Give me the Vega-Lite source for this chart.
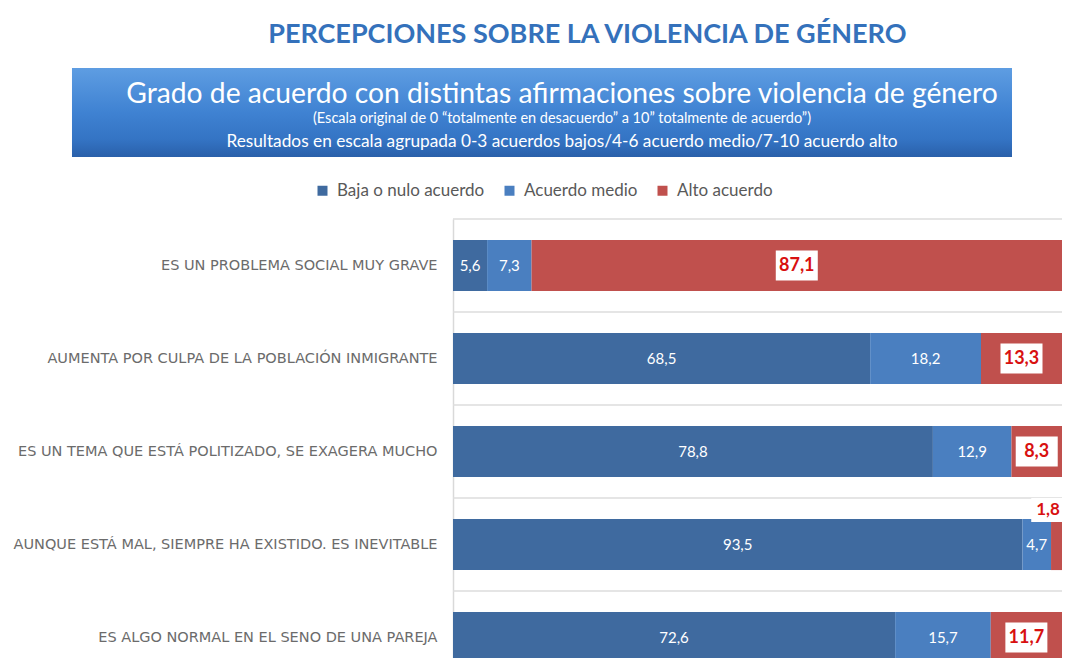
{
  "$schema": "https://vega.github.io/schema/vega-lite/v6.json",
  "background": "white",
  "padding": {"left": 13, "top": 21, "right": 0, "bottom": 0},
  "config": {
    "view": {"stroke": null},
    "font": "Lato",
    "axis": {"labelFont": "DejaVu Sans"},
    "locale": {"number": {"decimal": ",", "thousands": ".", "grouping": [3], "currency": ["", " €"]}}
  },
  "title": {
    "text": "PERCEPCIONES SOBRE LA VIOLENCIA DE GÉNERO",
    "font": "Lato",
    "fontSize": 27,
    "fontWeight": "bold",
    "color": "#3471bb",
    "anchor": "middle",
    "dx": 42,
    "offset": 19
  },
  "datasets": {
    "banner": [
      {"line": "a", "texto": "Grado de acuerdo con distintas afirmaciones sobre violencia de género"},
      {"line": "b", "texto": "(Escala original de 0 “totalmente en desacuerdo” a 10” totalmente de acuerdo”)"},
      {"line": "c", "texto": "Resultados en escala agrupada 0-3 acuerdos bajos/4-6 acuerdo medio/7-10 acuerdo alto"}
    ],
    "bars": [
      {"q": "ES UN PROBLEMA SOCIAL MUY GRAVE", "cat": "Baja o nulo acuerdo", "level": 1, "v": 5.6},
      {"q": "ES UN PROBLEMA SOCIAL MUY GRAVE", "cat": "Acuerdo medio", "level": 2, "v": 7.3},
      {"q": "ES UN PROBLEMA SOCIAL MUY GRAVE", "cat": "Alto acuerdo", "level": 3, "v": 87.1},
      {"q": "AUMENTA POR CULPA DE LA POBLACIÓN INMIGRANTE", "cat": "Baja o nulo acuerdo", "level": 1, "v": 68.5},
      {"q": "AUMENTA POR CULPA DE LA POBLACIÓN INMIGRANTE", "cat": "Acuerdo medio", "level": 2, "v": 18.2},
      {"q": "AUMENTA POR CULPA DE LA POBLACIÓN INMIGRANTE", "cat": "Alto acuerdo", "level": 3, "v": 13.3},
      {"q": "ES UN TEMA QUE ESTÁ POLITIZADO, SE EXAGERA MUCHO", "cat": "Baja o nulo acuerdo", "level": 1, "v": 78.8},
      {"q": "ES UN TEMA QUE ESTÁ POLITIZADO, SE EXAGERA MUCHO", "cat": "Acuerdo medio", "level": 2, "v": 12.9},
      {"q": "ES UN TEMA QUE ESTÁ POLITIZADO, SE EXAGERA MUCHO", "cat": "Alto acuerdo", "level": 3, "v": 8.3},
      {"q": "AUNQUE ESTÁ MAL, SIEMPRE HA EXISTIDO. ES INEVITABLE", "cat": "Baja o nulo acuerdo", "level": 1, "v": 93.5},
      {"q": "AUNQUE ESTÁ MAL, SIEMPRE HA EXISTIDO. ES INEVITABLE", "cat": "Acuerdo medio", "level": 2, "v": 4.7},
      {"q": "AUNQUE ESTÁ MAL, SIEMPRE HA EXISTIDO. ES INEVITABLE", "cat": "Alto acuerdo", "level": 3, "v": 1.8},
      {"q": "ES ALGO NORMAL EN EL SENO DE UNA PAREJA", "cat": "Baja o nulo acuerdo", "level": 1, "v": 72.6},
      {"q": "ES ALGO NORMAL EN EL SENO DE UNA PAREJA", "cat": "Acuerdo medio", "level": 2, "v": 15.7},
      {"q": "ES ALGO NORMAL EN EL SENO DE UNA PAREJA", "cat": "Alto acuerdo", "level": 3, "v": 11.7}
    ]
  },
  "spacing": 61,
  "vconcat": [
    {
      "width": 559,
      "height": 89,
      "layer": [
        {
          "data": {"values": [{}]},
          "mark": {
            "type": "rect",
            "color": {
              "gradient": "linear", "x1": 0, "y1": 0, "x2": 0, "y2": 1,
              "stops": [
                {"offset": 0, "color": "#5e9de2"},
                {"offset": 0.5, "color": "#3f82d2"},
                {"offset": 0.8, "color": "#3474c4"},
                {"offset": 1, "color": "#2a60aa"}
              ]
            }
          },
          "encoding": {
            "x": {"datum": -0.6816, "type": "quantitative", "scale": {"domain": [0, 1], "nice": false, "zero": false}, "axis": null},
            "x2": {"datum": 1},
            "y": {"datum": 0, "type": "quantitative", "scale": {"domain": [0, 1]}, "axis": null},
            "y2": {"datum": 1}
          }
        },
        {
          "data": {"name": "banner"},
          "mark": {"type": "text", "color": "white", "font": "Lato"},
          "encoding": {
            "x": {"datum": 0.195, "type": "quantitative"},
            "y": {"field": "line", "type": "nominal", "sort": null, "scale": {"type": "point", "range": [27, 74], "padding": 0}, "axis": null},
            "text": {"field": "texto", "type": "nominal"},
            "size": {"field": "line", "type": "nominal", "scale": {"type": "point", "domain": ["b", "c", "p", "q", "r", "a"], "range": [14.5, 28.25], "padding": 0}, "legend": null}
          }
        }
      ],
      "resolve": {"scale": {"y": "independent"}}
    },
    {
      "width": 609,
      "height": 465,
      "data": {"name": "bars"},
      "layer": [
        {
          "transform": [{"filter": "datum.level == 1"}],
          "mark": {"type": "rule", "color": "#dcdcdc", "yOffset": -46.5, "strokeWidth": 1.5},
          "encoding": {
            "y": {"field": "q", "type": "nominal", "sort": null}
          }
        },
        {
          "mark": {"type": "bar"},
          "encoding": {
            "y": {
              "field": "q", "type": "nominal", "sort": null,
              "scale": {"paddingInner": 0.45, "paddingOuter": 0.225},
              "axis": {
                "title": null, "ticks": false, "domain": true, "domainColor": "#d9d9d9", "domainWidth": 1.5,
                "grid": false, "labelFont": "DejaVu Sans", "labelFontSize": 14.5, "labelColor": "#6b6b6b",
                "labelPadding": 16, "labelLimit": 0
              }
            },
            "x": {"field": "v", "type": "quantitative", "stack": "zero", "scale": {"domain": [0, 100]}, "axis": null},
            "order": {"field": "level", "type": "quantitative"},
            "color": {
              "field": "cat", "type": "nominal",
              "scale": {"domain": ["Baja o nulo acuerdo", "Acuerdo medio", "Alto acuerdo"], "range": ["#3f6a9f", "#4a7fc0", "#c0504d"]},
              "legend": {
                "title": null, "orient": "none", "direction": "horizontal", "legendX": -139, "legendY": 114,
                "symbolType": "square", "symbolSize": 100, "labelFont": "Lato", "labelFontSize": 17,
                "labelColor": "#595959", "columnPadding": 16, "labelOffset": 6
              }
            }
          }
        },
        {
          "mark": {"type": "text", "color": "white", "fontSize": 15, "font": "Lato"},
          "encoding": {
            "y": {"field": "q", "type": "nominal", "sort": null},
            "x": {"field": "v", "type": "quantitative", "stack": "zero", "bandPosition": 0.5},
            "order": {"field": "level", "type": "quantitative"},
            "detail": {"field": "cat", "type": "nominal"},
            "text": {"field": "v", "type": "quantitative", "format": ".1f"},
            "opacity": {"condition": {"test": "datum.level < 3", "value": 1}, "value": 0}
          }
        },
        {
          "mark": {"type": "point", "shape": "M-1.4,-1L1.4,-1L1.4,1L-1.4,1Z", "filled": true, "color": "white", "size": 900},
          "encoding": {
            "y": {"field": "q", "type": "nominal", "sort": null},
            "x": {"field": "v", "type": "quantitative", "stack": "zero", "bandPosition": 0.5},
            "order": {"field": "level", "type": "quantitative"},
            "detail": {"field": "cat", "type": "nominal"},
            "opacity": {"condition": {"test": "datum.level == 3 && datum.v >= 5", "value": 1}, "value": 0}
          }
        },
        {
          "mark": {"type": "text", "color": "#d81010", "fontSize": 18, "fontWeight": "bold", "font": "Lato"},
          "encoding": {
            "y": {"field": "q", "type": "nominal", "sort": null},
            "x": {"field": "v", "type": "quantitative", "stack": "zero", "bandPosition": 0.5},
            "order": {"field": "level", "type": "quantitative"},
            "detail": {"field": "cat", "type": "nominal"},
            "text": {"field": "v", "type": "quantitative", "format": ".1f"},
            "opacity": {"condition": {"test": "datum.level == 3 && datum.v >= 5", "value": 1}, "value": 0}
          }
        },
        {
          "mark": {"type": "point", "shape": "M-1.4,-1L1.4,-1L1.4,1L-1.4,1Z", "filled": true, "color": "white", "size": 576, "xOffset": -8.5, "yOffset": -34.5},
          "encoding": {
            "y": {"field": "q", "type": "nominal", "sort": null},
            "x": {"field": "v", "type": "quantitative", "stack": "zero", "bandPosition": 0.5},
            "order": {"field": "level", "type": "quantitative"},
            "detail": {"field": "cat", "type": "nominal"},
            "opacity": {"condition": {"test": "datum.level == 3 && datum.v < 5", "value": 1}, "value": 0}
          }
        },
        {
          "mark": {"type": "text", "color": "#d81010", "fontSize": 17, "fontWeight": "bold", "font": "Lato", "xOffset": -8.5, "yOffset": -34.5},
          "encoding": {
            "y": {"field": "q", "type": "nominal", "sort": null},
            "x": {"field": "v", "type": "quantitative", "stack": "zero", "bandPosition": 0.5},
            "order": {"field": "level", "type": "quantitative"},
            "detail": {"field": "cat", "type": "nominal"},
            "text": {"field": "v", "type": "quantitative", "format": ".1f"},
            "opacity": {"condition": {"test": "datum.level == 3 && datum.v < 5", "value": 1}, "value": 0}
          }
        }
      ]
    }
  ]
}
